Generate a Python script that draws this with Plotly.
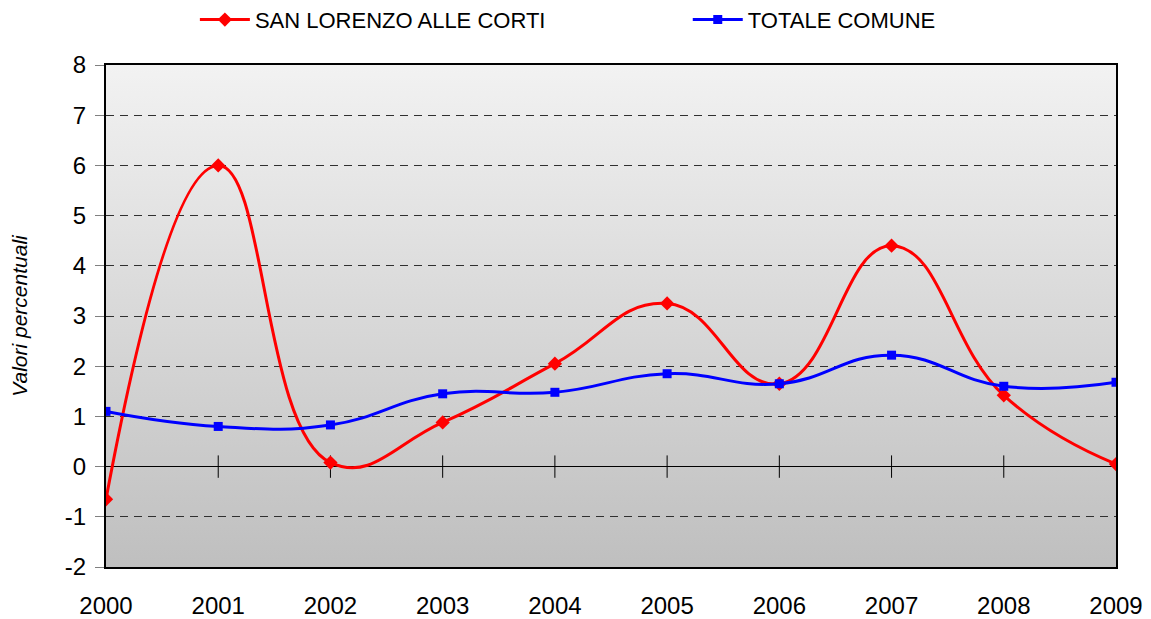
import base64
import plotly.graph_objects as go

years = [2000, 2001, 2002, 2003, 2004, 2005, 2006, 2007, 2008, 2009]
san_lorenzo = [-0.65, 6.0, 0.08, 0.88, 2.05, 3.25, 1.65, 4.4, 1.42, 0.05]
totale_comune = [1.1, 0.8, 0.83, 1.45, 1.48, 1.85, 1.65, 2.22, 1.6, 1.68]
y_ticks = [-2, -1, 0, 1, 2, 3, 4, 5, 6, 7, 8]
y_ticktext = [str(v) for v in y_ticks]

FONT = "Liberation Sans, Arial, sans-serif"

# vertical gradient for the plot area background (SVG data URI)
svg = ('<svg xmlns="http://www.w3.org/2000/svg" width="100" height="100" preserveAspectRatio="none">'
       '<defs><linearGradient id="g" x1="0" y1="0" x2="0" y2="1">'
       '<stop offset="0" stop-color="#f2f2f2"/><stop offset="1" stop-color="#bfbfbf"/>'
       '</linearGradient></defs><rect width="100" height="100" fill="url(#g)"/></svg>')
bg_src = "data:image/svg+xml;base64," + base64.b64encode(svg.encode()).decode()

fig = go.Figure()

# tick crosses on the zero line
fig.add_trace(go.Scatter(
    x=years[1:-1], y=[0] * (len(years) - 2), mode="markers",
    marker=dict(symbol="line-ns-open", size=16, color="black", line=dict(width=1, color="black")),
    hoverinfo="skip", showlegend=False,
))

fig.add_trace(go.Scatter(
    x=years, y=san_lorenzo, name="SAN LORENZO ALLE CORTI", legend="legend",
    mode="lines+markers", line=dict(color="#ff0000", width=3, shape="spline", smoothing=1.3),
    marker=dict(symbol="diamond", size=11, color="#ff0000"),
))
fig.add_trace(go.Scatter(
    x=years, y=totale_comune, name="TOTALE COMUNE", legend="legend2",
    mode="lines+markers", line=dict(color="#0000ff", width=3, shape="spline", smoothing=1.3),
    marker=dict(symbol="square", size=9, color="#0000ff"),
))

legend_common = dict(orientation="h", yanchor="middle", xanchor="left", y=1.09,
                     font=dict(size=22), itemwidth=50, bgcolor="rgba(0,0,0,0)")

# The page body has an 8px margin; the figure is offset by it inside the window.
fig.update_layout(
    width=1135, height=611,
    margin=dict(l=98, r=27, t=57, b=52, autoexpand=False),
    paper_bgcolor="white", plot_bgcolor="rgba(0,0,0,0)",
    font=dict(family=FONT, size=24, color="black"),
    showlegend=True,
    legend=dict(x=0.088, **legend_common),
    legend2=dict(x=0.576, **legend_common),
    images=[dict(source=bg_src, xref="paper", yref="paper", x=0, y=1, sizex=1, sizey=1,
                 xanchor="left", yanchor="top", sizing="stretch", layer="below")],
    xaxis=dict(range=[years[0], years[-1]], tickvals=years, ticks="", showgrid=False,
               zeroline=False, showline=True, linecolor="black", linewidth=2, mirror=True,
               ticklabelstandoff=16, automargin=False),
    yaxis=dict(range=[y_ticks[0], y_ticks[-1]], tickvals=y_ticks, ticktext=y_ticktext,
               ticks="outside", ticklen=9,
               tickcolor="#808080", showgrid=True, gridcolor="#303030", griddash="8px,6px",
               gridwidth=1, zeroline=True, zerolinecolor="black", zerolinewidth=1,
               showline=True, linecolor="black", linewidth=2, mirror=True,
               ticklabelstandoff=4, automargin=False,
               title=dict(text="<i>Valori percentuali</i>", font=dict(size=21), standoff=33)),
)

fig.write_html("out.html")
